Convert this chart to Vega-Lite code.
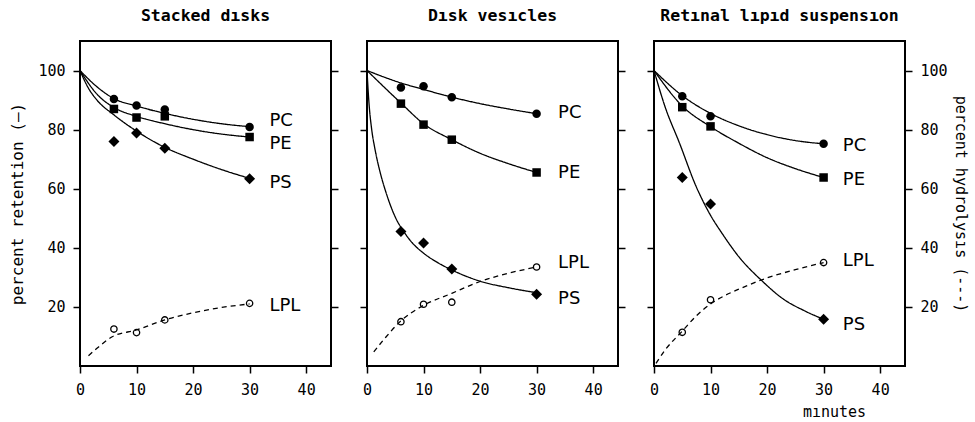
{
  "$schema": "https://vega.github.io/schema/vega-lite/v6.json",
  "background": "white",
  "padding": {"left": 8, "top": 6, "right": 4, "bottom": 2},
  "autosize": {"type": "pad"},
  "spacing": 36,
  "bounds": "flush",
  "config": {
    "view": {"stroke": "black", "strokeWidth": 2},
    "axis": {"grid": false, "domain": false, "ticks": true, "tickColor": "black", "tickWidth": 1.5, "tickSize": 7, "labelFont": "DejaVu Sans Mono", "labelFontSize": 15, "labelColor": "black", "titleFont": "DejaVu Sans Mono", "titleFontSize": 16, "titleFontWeight": "normal", "titleColor": "black"},
    "title": {"font": "DejaVu Sans Mono", "fontSize": 16.5, "fontWeight": "bold", "anchor": "middle", "frame": "group", "offset": 17, "color": "black"}
  },
  "datasets": {
    "curves": [
      {"panel": "A", "series": "PC", "x": 0, "y": 100}, {"panel": "A", "series": "PC", "x": 3, "y": 94.5}, {"panel": "A", "series": "PC", "x": 6, "y": 90.5}, {"panel": "A", "series": "PC", "x": 10, "y": 88}, {"panel": "A", "series": "PC", "x": 15, "y": 85.5}, {"panel": "A", "series": "PC", "x": 20, "y": 83.5}, {"panel": "A", "series": "PC", "x": 25, "y": 82}, {"panel": "A", "series": "PC", "x": 30, "y": 81},
      {"panel": "A", "series": "PE", "x": 0, "y": 100}, {"panel": "A", "series": "PE", "x": 3, "y": 92}, {"panel": "A", "series": "PE", "x": 6, "y": 87.5}, {"panel": "A", "series": "PE", "x": 10, "y": 84.5}, {"panel": "A", "series": "PE", "x": 15, "y": 82}, {"panel": "A", "series": "PE", "x": 20, "y": 80}, {"panel": "A", "series": "PE", "x": 25, "y": 78.5}, {"panel": "A", "series": "PE", "x": 30, "y": 77.5},
      {"panel": "A", "series": "PS", "x": 0, "y": 100}, {"panel": "A", "series": "PS", "x": 1.5, "y": 94}, {"panel": "A", "series": "PS", "x": 3, "y": 90}, {"panel": "A", "series": "PS", "x": 6, "y": 85}, {"panel": "A", "series": "PS", "x": 10, "y": 79.5}, {"panel": "A", "series": "PS", "x": 15, "y": 74}, {"panel": "A", "series": "PS", "x": 20, "y": 70}, {"panel": "A", "series": "PS", "x": 25, "y": 66.5}, {"panel": "A", "series": "PS", "x": 30, "y": 63.5},
      {"panel": "A", "series": "LPL", "x": 1.5, "y": 3.5}, {"panel": "A", "series": "LPL", "x": 3, "y": 6}, {"panel": "A", "series": "LPL", "x": 5.7, "y": 9.9}, {"panel": "A", "series": "LPL", "x": 10, "y": 12.2}, {"panel": "A", "series": "LPL", "x": 15, "y": 15.6}, {"panel": "A", "series": "LPL", "x": 20, "y": 18}, {"panel": "A", "series": "LPL", "x": 25, "y": 19.8}, {"panel": "A", "series": "LPL", "x": 30, "y": 21},
      {"panel": "B", "series": "PC", "x": 0, "y": 100}, {"panel": "B", "series": "PC", "x": 6, "y": 95.8}, {"panel": "B", "series": "PC", "x": 10, "y": 93.6}, {"panel": "B", "series": "PC", "x": 15, "y": 91}, {"panel": "B", "series": "PC", "x": 20, "y": 88.8}, {"panel": "B", "series": "PC", "x": 25, "y": 87}, {"panel": "B", "series": "PC", "x": 30, "y": 85.4},
      {"panel": "B", "series": "PE", "x": 0, "y": 100}, {"panel": "B", "series": "PE", "x": 6, "y": 89}, {"panel": "B", "series": "PE", "x": 10, "y": 82}, {"panel": "B", "series": "PE", "x": 15, "y": 76.6}, {"panel": "B", "series": "PE", "x": 20, "y": 72}, {"panel": "B", "series": "PE", "x": 25, "y": 68.5}, {"panel": "B", "series": "PE", "x": 30, "y": 65.5},
      {"panel": "B", "series": "PS", "x": 0, "y": 100}, {"panel": "B", "series": "PS", "x": 0.35, "y": 89}, {"panel": "B", "series": "PS", "x": 0.8, "y": 80.5}, {"panel": "B", "series": "PS", "x": 1.4, "y": 73.5}, {"panel": "B", "series": "PS", "x": 2.2, "y": 66.5}, {"panel": "B", "series": "PS", "x": 3.4, "y": 58.5}, {"panel": "B", "series": "PS", "x": 5.1, "y": 50}, {"panel": "B", "series": "PS", "x": 6.5, "y": 45.5}, {"panel": "B", "series": "PS", "x": 8, "y": 41.7}, {"panel": "B", "series": "PS", "x": 10, "y": 38.2}, {"panel": "B", "series": "PS", "x": 12.5, "y": 35}, {"panel": "B", "series": "PS", "x": 15, "y": 32.5}, {"panel": "B", "series": "PS", "x": 20, "y": 28.7}, {"panel": "B", "series": "PS", "x": 25, "y": 26.5}, {"panel": "B", "series": "PS", "x": 30, "y": 24.8},
      {"panel": "B", "series": "LPL", "x": 1.2, "y": 4.8}, {"panel": "B", "series": "LPL", "x": 3, "y": 9}, {"panel": "B", "series": "LPL", "x": 6, "y": 15.3}, {"panel": "B", "series": "LPL", "x": 9.6, "y": 20.1}, {"panel": "B", "series": "LPL", "x": 15, "y": 24.6}, {"panel": "B", "series": "LPL", "x": 20, "y": 28.6}, {"panel": "B", "series": "LPL", "x": 25, "y": 31.4}, {"panel": "B", "series": "LPL", "x": 30, "y": 33.5},
      {"panel": "C", "series": "PC", "x": 0, "y": 100}, {"panel": "C", "series": "PC", "x": 5, "y": 91.5}, {"panel": "C", "series": "PC", "x": 10, "y": 85.5}, {"panel": "C", "series": "PC", "x": 15, "y": 81.3}, {"panel": "C", "series": "PC", "x": 20, "y": 78.3}, {"panel": "C", "series": "PC", "x": 25, "y": 76.3}, {"panel": "C", "series": "PC", "x": 30, "y": 75.2},
      {"panel": "C", "series": "PE", "x": 0, "y": 100}, {"panel": "C", "series": "PE", "x": 5, "y": 88}, {"panel": "C", "series": "PE", "x": 10, "y": 81}, {"panel": "C", "series": "PE", "x": 15, "y": 75.4}, {"panel": "C", "series": "PE", "x": 20, "y": 70.5}, {"panel": "C", "series": "PE", "x": 25, "y": 66.8}, {"panel": "C", "series": "PE", "x": 30, "y": 63.8},
      {"panel": "C", "series": "PS", "x": 0, "y": 100}, {"panel": "C", "series": "PS", "x": 2, "y": 87.5}, {"panel": "C", "series": "PS", "x": 4.5, "y": 75.5}, {"panel": "C", "series": "PS", "x": 7.4, "y": 61}, {"panel": "C", "series": "PS", "x": 10, "y": 51}, {"panel": "C", "series": "PS", "x": 12, "y": 45}, {"panel": "C", "series": "PS", "x": 15, "y": 37}, {"panel": "C", "series": "PS", "x": 19, "y": 29}, {"panel": "C", "series": "PS", "x": 23, "y": 22.5}, {"panel": "C", "series": "PS", "x": 26.5, "y": 18.8}, {"panel": "C", "series": "PS", "x": 30, "y": 15.8},
      {"panel": "C", "series": "LPL", "x": 0.35, "y": 0.9}, {"panel": "C", "series": "LPL", "x": 2, "y": 5.5}, {"panel": "C", "series": "LPL", "x": 5, "y": 11.8}, {"panel": "C", "series": "LPL", "x": 7.5, "y": 17}, {"panel": "C", "series": "LPL", "x": 10, "y": 21}, {"panel": "C", "series": "LPL", "x": 12.5, "y": 23.8}, {"panel": "C", "series": "LPL", "x": 15, "y": 26}, {"panel": "C", "series": "LPL", "x": 20, "y": 29.8}, {"panel": "C", "series": "LPL", "x": 25, "y": 32.6}, {"panel": "C", "series": "LPL", "x": 30, "y": 35}
    ],
    "points": [
      {"panel": "A", "series": "PC", "x": 6, "y": 90.4}, {"panel": "A", "series": "PC", "x": 10, "y": 88.2}, {"panel": "A", "series": "PC", "x": 15, "y": 86.8}, {"panel": "A", "series": "PC", "x": 30, "y": 80.9},
      {"panel": "A", "series": "PE", "x": 6, "y": 87}, {"panel": "A", "series": "PE", "x": 10, "y": 84.1}, {"panel": "A", "series": "PE", "x": 15, "y": 84.5}, {"panel": "A", "series": "PE", "x": 30, "y": 77.5},
      {"panel": "A", "series": "PS", "x": 6, "y": 76}, {"panel": "A", "series": "PS", "x": 10, "y": 78.9}, {"panel": "A", "series": "PS", "x": 15, "y": 73.7}, {"panel": "A", "series": "PS", "x": 30, "y": 63.4},
      {"panel": "A", "series": "LPL", "x": 6, "y": 12.5}, {"panel": "A", "series": "LPL", "x": 10, "y": 11.3}, {"panel": "A", "series": "LPL", "x": 15, "y": 15.6}, {"panel": "A", "series": "LPL", "x": 30, "y": 21.2},
      {"panel": "B", "series": "PC", "x": 6, "y": 94.3}, {"panel": "B", "series": "PC", "x": 10, "y": 94.7}, {"panel": "B", "series": "PC", "x": 15, "y": 91}, {"panel": "B", "series": "PC", "x": 30, "y": 85.4},
      {"panel": "B", "series": "PE", "x": 6, "y": 88.8}, {"panel": "B", "series": "PE", "x": 10, "y": 81.7}, {"panel": "B", "series": "PE", "x": 15, "y": 76.6}, {"panel": "B", "series": "PE", "x": 30, "y": 65.5},
      {"panel": "B", "series": "PS", "x": 6, "y": 45.5}, {"panel": "B", "series": "PS", "x": 10, "y": 41.6}, {"panel": "B", "series": "PS", "x": 15, "y": 32.8}, {"panel": "B", "series": "PS", "x": 30, "y": 24.3},
      {"panel": "B", "series": "LPL", "x": 6, "y": 15}, {"panel": "B", "series": "LPL", "x": 10, "y": 20.9}, {"panel": "B", "series": "LPL", "x": 15, "y": 21.6}, {"panel": "B", "series": "LPL", "x": 30, "y": 33.5},
      {"panel": "C", "series": "PC", "x": 5, "y": 91.3}, {"panel": "C", "series": "PC", "x": 10, "y": 84.5}, {"panel": "C", "series": "PC", "x": 30, "y": 75.2},
      {"panel": "C", "series": "PE", "x": 5, "y": 87.6}, {"panel": "C", "series": "PE", "x": 10, "y": 81.1}, {"panel": "C", "series": "PE", "x": 30, "y": 63.8},
      {"panel": "C", "series": "PS", "x": 5, "y": 63.8}, {"panel": "C", "series": "PS", "x": 10, "y": 54.8}, {"panel": "C", "series": "PS", "x": 30, "y": 15.8},
      {"panel": "C", "series": "LPL", "x": 5, "y": 11.4}, {"panel": "C", "series": "LPL", "x": 10, "y": 22.4}, {"panel": "C", "series": "LPL", "x": 30, "y": 35}
    ],
    "labels": [
      {"panel": "A", "series": "PC", "x": 33.5, "y": 82.8}, {"panel": "A", "series": "PE", "x": 33.5, "y": 75.3}, {"panel": "A", "series": "PS", "x": 33.5, "y": 62.1}, {"panel": "A", "series": "LPL", "x": 33.5, "y": 20.3},
      {"panel": "B", "series": "PC", "x": 33.8, "y": 85.7}, {"panel": "B", "series": "PE", "x": 33.8, "y": 65.3}, {"panel": "B", "series": "LPL", "x": 33.8, "y": 34.8}, {"panel": "B", "series": "PS", "x": 33.8, "y": 22.6},
      {"panel": "C", "series": "PC", "x": 33.4, "y": 74.3}, {"panel": "C", "series": "PE", "x": 33.4, "y": 63}, {"panel": "C", "series": "LPL", "x": 33.4, "y": 35.4}, {"panel": "C", "series": "PS", "x": 33.4, "y": 13.9}
    ]
  },
  "hconcat": [
    {
      "width": 251, "height": 325,
      "title": "Stacked dısks",
      "resolve": {"axis": {"y": "independent"}},
      "layer": [
        {"data": {"name": "curves"}, "transform": [{"filter": "datum.panel === 'A'"}],
         "mark": {"type": "line", "color": "black", "strokeWidth": 1.3, "interpolate": "monotone"},
         "encoding": {
           "x": {"field": "x", "type": "quantitative", "scale": {"domain": [0, 44.4], "nice": false}, "axis": {"values": [0, 10, 20, 30, 40], "title": null, "labelPadding": 9, "labelFlush": false}},
           "y": {"field": "y", "type": "quantitative", "scale": {"domain": [0, 110], "nice": false}, "axis": {"orient": "left", "values": [20, 40, 60, 80, 100], "title": "percent retention (—)", "labelPadding": 8, "titlePadding": 12}},
           "detail": {"field": "series", "type": "nominal"},
           "strokeDash": {"field": "series", "type": "nominal", "scale": {"domain": ["PC", "PE", "PS", "LPL"], "range": [[1, 0], [1, 0], [1, 0], [5, 4]]}, "legend": null}
         }},
        {"data": {"name": "points"}, "transform": [{"filter": "datum.panel === 'A' && datum.series !== 'LPL'"}],
         "mark": {"type": "point", "filled": true, "color": "black", "opacity": 1, "size": 100},
         "encoding": {
           "x": {"field": "x", "type": "quantitative", "scale": {"domain": [0, 44.4], "nice": false}, "axis": {"values": [0, 10, 20, 30, 40], "title": null, "labelPadding": 9, "labelFlush": false}},
           "y": {"field": "y", "type": "quantitative", "scale": {"domain": [0, 110], "nice": false}, "axis": {"orient": "right", "values": [20, 40, 60, 80, 100], "labels": false, "title": null}},
           "shape": {"field": "series", "type": "nominal", "scale": {"domain": ["PC", "PE", "PS"], "range": ["M0,-0.85A0.85,0.85,0,1,1,0,0.85A0.85,0.85,0,1,1,0,-0.85Z", "M-0.85,-0.85H0.85V0.85H-0.85Z", "M0,-1.1L1.1,0L0,1.1L-1.1,0Z"]}, "legend": null}
         }},
        {"data": {"name": "points"}, "transform": [{"filter": "datum.panel === 'A' && datum.series === 'LPL'"}],
         "mark": {"type": "point", "shape": "circle", "filled": false, "color": "black", "strokeWidth": 1.3, "size": 40, "opacity": 1},
         "encoding": {
           "x": {"field": "x", "type": "quantitative", "scale": {"domain": [0, 44.4], "nice": false}, "axis": {"values": [0, 10, 20, 30, 40], "title": null, "labelPadding": 9, "labelFlush": false}},
           "y": {"field": "y", "type": "quantitative", "scale": {"domain": [0, 110], "nice": false}, "axis": null}
         }},
        {"data": {"name": "labels"}, "transform": [{"filter": "datum.panel === 'A'"}],
         "mark": {"type": "text", "align": "left", "baseline": "middle", "font": "DejaVu Sans", "fontSize": 18, "color": "black"},
         "encoding": {
           "x": {"field": "x", "type": "quantitative", "scale": {"domain": [0, 44.4], "nice": false}, "axis": {"values": [0, 10, 20, 30, 40], "title": null, "labelPadding": 9, "labelFlush": false}},
           "y": {"field": "y", "type": "quantitative", "scale": {"domain": [0, 110], "nice": false}, "axis": null},
           "text": {"field": "series", "type": "nominal"}
         }}
      ]
    },
    {
      "width": 251, "height": 325,
      "title": "Dısk vesıcles",
      "resolve": {"axis": {"y": "independent"}},
      "layer": [
        {"data": {"name": "curves"}, "transform": [{"filter": "datum.panel === 'B'"}],
         "mark": {"type": "line", "color": "black", "strokeWidth": 1.3, "interpolate": "monotone"},
         "encoding": {
           "x": {"field": "x", "type": "quantitative", "scale": {"domain": [0, 44.4], "nice": false}, "axis": {"values": [0, 10, 20, 30, 40], "title": null, "labelPadding": 9, "labelFlush": false}},
           "y": {"field": "y", "type": "quantitative", "scale": {"domain": [0, 110], "nice": false}, "axis": {"orient": "left", "values": [20, 40, 60, 80, 100], "labels": false, "title": null}},
           "detail": {"field": "series", "type": "nominal"},
           "strokeDash": {"field": "series", "type": "nominal", "scale": {"domain": ["PC", "PE", "PS", "LPL"], "range": [[1, 0], [1, 0], [1, 0], [5, 4]]}, "legend": null}
         }},
        {"data": {"name": "points"}, "transform": [{"filter": "datum.panel === 'B' && datum.series !== 'LPL'"}],
         "mark": {"type": "point", "filled": true, "color": "black", "opacity": 1, "size": 100},
         "encoding": {
           "x": {"field": "x", "type": "quantitative", "scale": {"domain": [0, 44.4], "nice": false}, "axis": {"values": [0, 10, 20, 30, 40], "title": null, "labelPadding": 9, "labelFlush": false}},
           "y": {"field": "y", "type": "quantitative", "scale": {"domain": [0, 110], "nice": false}, "axis": {"orient": "right", "values": [20, 40, 60, 80, 100], "labels": false, "title": null}},
           "shape": {"field": "series", "type": "nominal", "scale": {"domain": ["PC", "PE", "PS"], "range": ["M0,-0.85A0.85,0.85,0,1,1,0,0.85A0.85,0.85,0,1,1,0,-0.85Z", "M-0.85,-0.85H0.85V0.85H-0.85Z", "M0,-1.1L1.1,0L0,1.1L-1.1,0Z"]}, "legend": null}
         }},
        {"data": {"name": "points"}, "transform": [{"filter": "datum.panel === 'B' && datum.series === 'LPL'"}],
         "mark": {"type": "point", "shape": "circle", "filled": false, "color": "black", "strokeWidth": 1.3, "size": 40, "opacity": 1},
         "encoding": {
           "x": {"field": "x", "type": "quantitative", "scale": {"domain": [0, 44.4], "nice": false}, "axis": {"values": [0, 10, 20, 30, 40], "title": null, "labelPadding": 9, "labelFlush": false}},
           "y": {"field": "y", "type": "quantitative", "scale": {"domain": [0, 110], "nice": false}, "axis": null}
         }},
        {"data": {"name": "labels"}, "transform": [{"filter": "datum.panel === 'B'"}],
         "mark": {"type": "text", "align": "left", "baseline": "middle", "font": "DejaVu Sans", "fontSize": 18, "color": "black"},
         "encoding": {
           "x": {"field": "x", "type": "quantitative", "scale": {"domain": [0, 44.4], "nice": false}, "axis": {"values": [0, 10, 20, 30, 40], "title": null, "labelPadding": 9, "labelFlush": false}},
           "y": {"field": "y", "type": "quantitative", "scale": {"domain": [0, 110], "nice": false}, "axis": null},
           "text": {"field": "series", "type": "nominal"}
         }}
      ]
    },
    {
      "width": 251, "height": 325,
      "title": "Retınal lıpıd suspensıon",
      "resolve": {"axis": {"y": "independent"}},
      "layer": [
        {"data": {"name": "curves"}, "transform": [{"filter": "datum.panel === 'C'"}],
         "mark": {"type": "line", "color": "black", "strokeWidth": 1.3, "interpolate": "monotone"},
         "encoding": {
           "x": {"field": "x", "type": "quantitative", "scale": {"domain": [0, 44.4], "nice": false}, "axis": {"values": [0, 10, 20, 30, 40], "title": "mınutes", "labelPadding": 9, "labelFlush": false, "titleX": 180, "titleY": 38, "titleAlign": "center", "titleBaseline": "top", "titleFontSize": 15}},
           "y": {"field": "y", "type": "quantitative", "scale": {"domain": [0, 110], "nice": false}, "axis": {"orient": "left", "values": [20, 40, 60, 80, 100], "labels": false, "title": null}},
           "detail": {"field": "series", "type": "nominal"},
           "strokeDash": {"field": "series", "type": "nominal", "scale": {"domain": ["PC", "PE", "PS", "LPL"], "range": [[1, 0], [1, 0], [1, 0], [5, 4]]}, "legend": null}
         }},
        {"data": {"name": "points"}, "transform": [{"filter": "datum.panel === 'C' && datum.series !== 'LPL'"}],
         "mark": {"type": "point", "filled": true, "color": "black", "opacity": 1, "size": 100},
         "encoding": {
           "x": {"field": "x", "type": "quantitative", "scale": {"domain": [0, 44.4], "nice": false}, "axis": {"values": [0, 10, 20, 30, 40], "title": "mınutes", "labelPadding": 9, "labelFlush": false, "titleX": 180, "titleY": 38, "titleAlign": "center", "titleBaseline": "top", "titleFontSize": 15}},
           "y": {"field": "y", "type": "quantitative", "scale": {"domain": [0, 110], "nice": false}, "axis": {"orient": "right", "values": [20, 40, 60, 80, 100], "title": "percent hydrolysıs (---)", "titleAngle": 90, "titleFontSize": 15, "labelPadding": 8, "titlePadding": 5}},
           "shape": {"field": "series", "type": "nominal", "scale": {"domain": ["PC", "PE", "PS"], "range": ["M0,-0.85A0.85,0.85,0,1,1,0,0.85A0.85,0.85,0,1,1,0,-0.85Z", "M-0.85,-0.85H0.85V0.85H-0.85Z", "M0,-1.1L1.1,0L0,1.1L-1.1,0Z"]}, "legend": null}
         }},
        {"data": {"name": "points"}, "transform": [{"filter": "datum.panel === 'C' && datum.series === 'LPL'"}],
         "mark": {"type": "point", "shape": "circle", "filled": false, "color": "black", "strokeWidth": 1.3, "size": 40, "opacity": 1},
         "encoding": {
           "x": {"field": "x", "type": "quantitative", "scale": {"domain": [0, 44.4], "nice": false}, "axis": {"values": [0, 10, 20, 30, 40], "title": "mınutes", "labelPadding": 9, "labelFlush": false, "titleX": 180, "titleY": 38, "titleAlign": "center", "titleBaseline": "top", "titleFontSize": 15}},
           "y": {"field": "y", "type": "quantitative", "scale": {"domain": [0, 110], "nice": false}, "axis": null}
         }},
        {"data": {"name": "labels"}, "transform": [{"filter": "datum.panel === 'C'"}],
         "mark": {"type": "text", "align": "left", "baseline": "middle", "font": "DejaVu Sans", "fontSize": 18, "color": "black"},
         "encoding": {
           "x": {"field": "x", "type": "quantitative", "scale": {"domain": [0, 44.4], "nice": false}, "axis": {"values": [0, 10, 20, 30, 40], "title": "mınutes", "labelPadding": 9, "labelFlush": false, "titleX": 180, "titleY": 38, "titleAlign": "center", "titleBaseline": "top", "titleFontSize": 15}},
           "y": {"field": "y", "type": "quantitative", "scale": {"domain": [0, 110], "nice": false}, "axis": null},
           "text": {"field": "series", "type": "nominal"}
         }}
      ]
    }
  ]
}
